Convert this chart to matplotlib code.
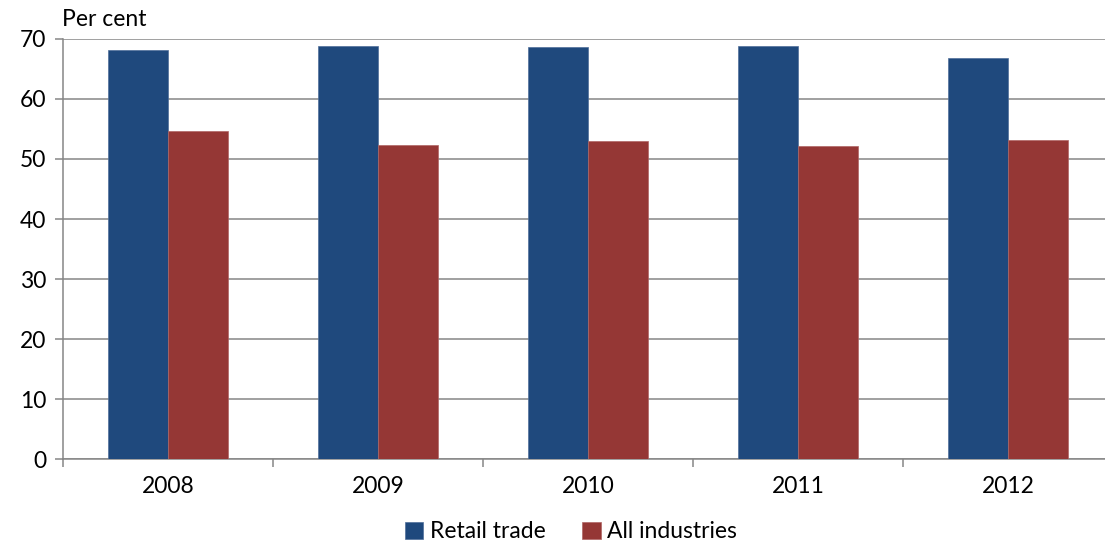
import matplotlib.pyplot as plt
import numpy as np

plt.rcParams['font.family'] = ['Lato', 'DejaVu Sans']

years = ['2008', '2009', '2010', '2011', '2012']
retail_trade = [68.1, 68.9, 68.6, 68.9, 66.9]
all_industries = [54.6, 52.4, 53.0, 52.1, 53.1]

blue = '#1F497D'
red = '#953735'
grey = '#868686'

fig = plt.figure(figsize=(11.05, 5.47), dpi=100)
ax = fig.add_axes([63 / 1105, 88 / 547, 1050 / 1105, 420 / 547])

x = np.arange(len(years))
w = 60 / 210
ax.bar(x - w / 2, retail_trade, w, color=blue, edgecolor='#4F6F9A', linewidth=0.5,
       label='Retail trade', zorder=3)
ax.bar(x + w / 2, all_industries, w, color=red, edgecolor='#B06664', linewidth=0.5,
       label='All industries', zorder=3)

ax.set_xlim(-0.5, len(years) - 0.5)
ax.set_ylim(0, 70)
ax.set_yticks(range(0, 71, 10))
ax.yaxis.grid(True, color=grey, linewidth=1.1, zorder=0)
ax.set_axisbelow(True)

# category boundaries carry the x ticks, labels sit in the middle
ax.set_xticks(np.arange(-0.5, len(years)), minor=False)
ax.set_xticklabels([])
ax.set_xticks(x, minor=True)
ax.set_xticklabels(years, minor=True)
ax.tick_params(axis='x', which='major', length=6, width=1.1, color=grey)
ax.tick_params(axis='x', which='minor', length=0, pad=12, labelsize=16.5)
ax.tick_params(axis='y', length=6, width=1.1, color=grey, labelsize=16.5, pad=6)

for side in ['top', 'right']:
    ax.spines[side].set_visible(False)
for side in ['left', 'bottom']:
    ax.spines[side].set_color(grey)
    ax.spines[side].set_linewidth(1.1)

fig.text(62 / 1105, 1 - 20 / 547, 'Per cent', fontsize=16.5, ha='left', va='center')

fig.legend(loc='center', bbox_to_anchor=(571 / 1105, 1 - 532 / 547), ncol=2,
           frameon=False, fontsize=16.5, handlelength=0.8, handleheight=0.8,
           handletextpad=0.3, columnspacing=1.6)

fig.savefig('out.png', dpi=100)
